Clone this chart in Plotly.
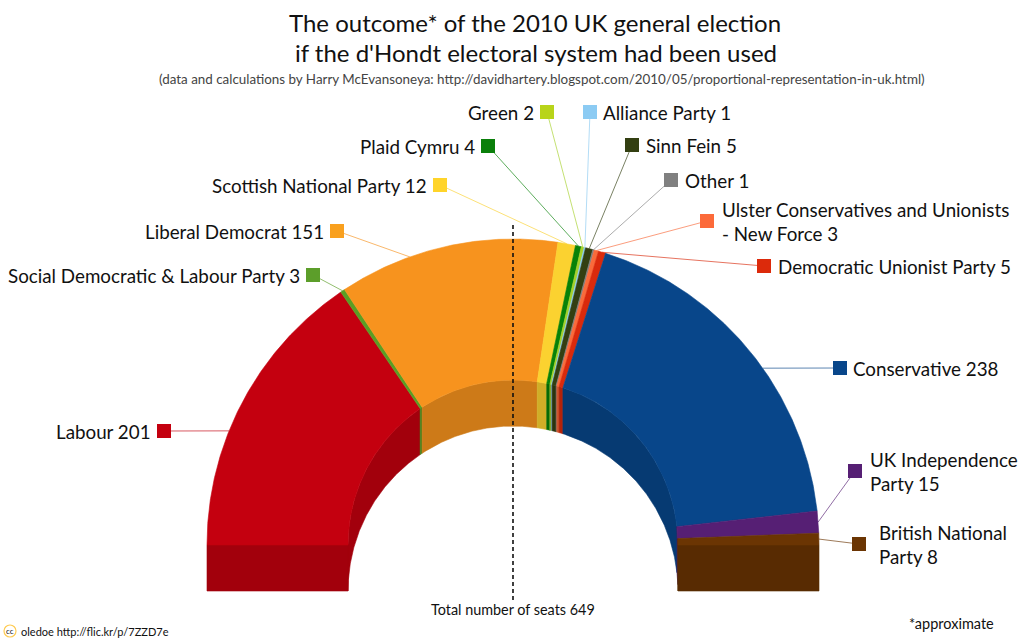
import numpy as np
import plotly.graph_objects as go

# ---------------- data ----------------
parties = ["Labour", "Social Democratic & Labour Party", "Liberal Democrat",
           "Scottish National Party", "Plaid Cymru", "Green", "Alliance Party",
           "Sinn Fein", "Other", "Ulster Conservatives and Unionists<br>- New Force",
           "Democratic Unionist Party", "Conservative", "UK Independence<br>Party",
           "British National<br>Party"]
seats = [201, 3, 151, 12, 4, 2, 1, 5, 1, 3, 5, 238, 15, 8]
colors = ["#c4000f", "#5a9e24", "#f7931e", "#fbd230", "#088208", "#a6d12a",
          "#8ccbf2", "#333f12", "#808080", "#fa6a3a", "#da2a0c", "#08468a",
          "#561f74", "#6b3503"]
square_colors = ["#c4000f", "#5c9e2a", "#f9a01e", "#ffd42a", "#0a7f0a", "#b8d41a",
                 "#8ccbf3", "#333f12", "#808080", "#fc6a3a", "#dc2a0b", "#08468a",
                 "#561f74", "#6b3503"]

# ---------------- layout / geometry (styling, not data) ----------------
CX, CY = 513, 545
R_OUT, R_IN, DEPTH = 306, 165, 46
FONT = "Lato"

# label square centres, text side, text gap
label_pos = [(164, 431, "l", 11), (313, 275, "l", 11), (337, 231, "l", 11), (440, 185, "l", 11),
             (488, 146, "l", 11), (547, 112, "l", 11), (590, 112, "r", 11), (632, 145, "r", 12),
             (671, 180, "r", 12), (707, 221, "r", 13), (764, 266, "r", 12), (840, 368, "r", 11),
             (855, 471, "r", 13), (859, 544, "r", 18)]
# angle (deg) where leader meets arc; None -> middle of slice
anchor_angle = [158.1, None, 109.7, None, None, None, None, None, None, None,
                None, 35.3, None, None]


def darken(hexc, f=0.83):
    h = hexc.lstrip("#")
    r, g, b = (int(h[i:i + 2], 16) for i in (0, 2, 4))
    return "#%02x%02x%02x" % (int(r * f), int(g * f), int(b * f))


def pt(r, a, dy=0.0):
    t = np.radians(a)
    return CX + r * np.cos(t), CY - r * np.sin(t) + dy


total = sum(seats)
cum = np.concatenate([[0], np.cumsum(seats)])
a_start = 180 - cum[:-1] / total * 180
a_end = 180 - cum[1:] / total * 180

fig = go.Figure()

# inner wall (darker)
for i in range(len(seats)):
    a0, a1 = a_start[i], a_end[i]
    n = max(3, int(abs(a0 - a1) * 3))
    ang = np.linspace(a0, a1, n)
    xt, yt = pt(R_IN, ang)
    xb, yb = pt(R_IN, ang[::-1], DEPTH)
    xs = np.concatenate([xt, xb, xt[:1]])
    ys = np.concatenate([yt, yb, yt[:1]])
    dc = darken(colors[i])
    fig.add_trace(go.Scatter(x=xs, y=ys, mode="lines", fill="toself",
                             fillcolor=dc, line=dict(color=dc, width=0.6),
                             hoverinfo="skip"))

# front end faces
for i, a in ((0, a_start[0]), (len(seats) - 1, a_end[-1])):
    x1, y1 = pt(R_IN, a)
    x2, y2 = pt(R_OUT, a)
    dc = darken(colors[i])
    fig.add_trace(go.Scatter(x=[x1, x2, x2, x1, x1],
                             y=[y1, y2, y2 + DEPTH, y1 + DEPTH, y1],
                             mode="lines", fill="toself", fillcolor=dc,
                             line=dict(color=dc, width=0.6), hoverinfo="skip"))

# top faces
for i in range(len(seats)):
    a0, a1 = a_start[i], a_end[i]
    n = max(3, int(abs(a0 - a1) * 3))
    ang = np.linspace(a0, a1, n)
    xo, yo = pt(R_OUT, ang)
    xi, yi = pt(R_IN, ang[::-1])
    xs = np.concatenate([xo, xi, xo[:1]])
    ys = np.concatenate([yo, yi, yo[:1]])
    fig.add_trace(go.Scatter(x=xs, y=ys, mode="lines", fill="toself",
                             fillcolor=colors[i],
                             line=dict(color=colors[i], width=0.6),
                             hoverinfo="skip"))

# centre dashed line
fig.add_trace(go.Scatter(x=[CX, CX], y=[CY - R_OUT - 14, CY + DEPTH + 12],
                         mode="lines", line=dict(color="#111111", width=1.6, dash="4px,3px"),
                         hoverinfo="skip"))

annotations = []
# leader lines, squares, labels
for i in range(len(seats)):
    sx, sy, side, gap = label_pos[i]
    a = anchor_angle[i] if anchor_angle[i] is not None else (a_start[i] + a_end[i]) / 2
    ax, ay = pt(R_OUT, a)
    fig.add_trace(go.Scatter(x=[sx, ax], y=[sy, ay], mode="lines",
                             line=dict(color=colors[i], width=1), opacity=0.65,
                             hoverinfo="skip"))
    fig.add_trace(go.Scatter(x=[sx], y=[sy], mode="markers",
                             marker=dict(symbol="square", size=14, color=square_colors[i],
                                         line=dict(width=0)),
                             hoverinfo="skip"))
    txt = f"{parties[i]} {seats[i]}"
    if side == "l":
        annotations.append(dict(x=sx - gap, y=sy, text=txt, xanchor="right", yanchor="middle",
                                align="right", showarrow=False,
                                font=dict(family=FONT, size=18.8, color="#111111")))
    else:
        annotations.append(dict(x=sx + gap, y=sy, text=txt, xanchor="left", yanchor="middle",
                                align="left", showarrow=False,
                                font=dict(family=FONT, size=18.8, color="#111111")))

annotations += [
    dict(x=535, y=22, text="The outcome* of the 2010 UK general election", showarrow=False,
         xanchor="center", yanchor="middle", font=dict(family=FONT, size=24, color="#111111")),
    dict(x=536, y=52, text="if the d'Hondt electoral system had been used", showarrow=False,
         xanchor="center", yanchor="middle", font=dict(family=FONT, size=24, color="#111111")),
    dict(x=542, y=79,
         text="(data and calculations by Harry McEvansoneya: http://davidhartery.blogspot.com/2010/05/proportional-representation-in-uk.html)",
         showarrow=False, xanchor="center", yanchor="middle",
         font=dict(family=FONT, size=13.4, color="#444444")),
    dict(x=CX, y=CY + DEPTH + 18, text=f"Total number of seats {total}", showarrow=False,
         xanchor="center", yanchor="middle", font=dict(family=FONT, size=14.4, color="#111111")),
    dict(x=996, y=623, text="*approximate", showarrow=False, xanchor="right", yanchor="middle",
         font=dict(family=FONT, size=14.5, color="#111111")),
    dict(x=19, y=631, text="oledoe http://flic.kr/p/7ZZD7e", showarrow=False, xanchor="left",
         yanchor="middle", font=dict(family=FONT, size=11, color="#111111")),
    dict(x=10, y=631, text="cc", showarrow=False, xanchor="center",
         yanchor="middle", font=dict(family=FONT, size=8, color="#111111")),
]

fig.add_trace(go.Scatter(x=[10], y=[631], mode="markers",
                         marker=dict(symbol="circle-open", size=12,
                                     line=dict(color="#111111", width=1.2)),
                         hoverinfo="skip"))

fig.update_layout(
    width=1024, height=642, margin=dict(l=0, r=0, t=0, b=0),
    paper_bgcolor="white", plot_bgcolor="white", showlegend=False,
    xaxis=dict(range=[0, 1024], visible=False, fixedrange=True),
    yaxis=dict(range=[642, 0], visible=False, fixedrange=True),
    annotations=annotations,
)

fig.write_html("out.html", config={"displayModeBar": False},
               post_script="document.body.style.margin='0';document.body.style.overflow='hidden';")
